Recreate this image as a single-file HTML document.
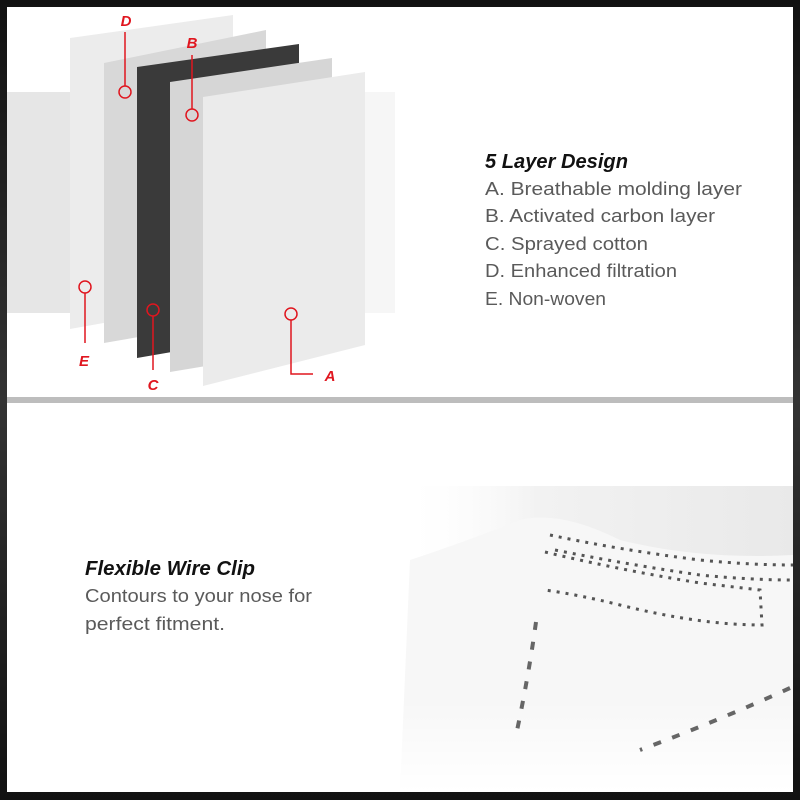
<!DOCTYPE html>
<html><head><style>html,body{margin:0;padding:0;background:#111;}svg{display:block}</style></head>
<body>
<svg width="800" height="800" viewBox="0 0 800 800" xmlns="http://www.w3.org/2000/svg" font-family="Liberation Sans, sans-serif">
<defs>
<linearGradient id="fr" x1="0" y1="0" x2="0" y2="1"><stop offset="0" stop-color="#111"/><stop offset="0.5" stop-color="#333"/><stop offset="1" stop-color="#111"/></linearGradient>
<linearGradient id="mg" x1="0" y1="0" x2="1" y2="0"><stop offset="0" stop-color="#fff" stop-opacity="0"/><stop offset="0.35" stop-color="#f2f2f2"/><stop offset="1" stop-color="#e9e9e9"/></linearGradient>
<linearGradient id="mv" x1="0" y1="0" x2="0" y2="1"><stop offset="0" stop-color="#fff" stop-opacity="0"/><stop offset="0.7" stop-color="#fff" stop-opacity="0"/><stop offset="1" stop-color="#fff"/></linearGradient>
</defs>
<rect width="800" height="800" fill="url(#fr)"/>
<rect x="7" y="7" width="786" height="390" fill="#fff"/>
<rect x="7" y="397" width="786" height="6" fill="#bdbdbd"/>
<rect x="7" y="403" width="786" height="389" fill="#fff"/>
<!-- top layers -->
<rect x="7" y="92" width="66" height="221" fill="#e6e6e6"/>
<rect x="365" y="92" width="30" height="221" fill="#f6f6f6"/>
<polygon points="70,38 233,15 233,300 70,329" fill="#ececec"/>
<polygon points="104,63 266,30 266,315 104,343" fill="#d8d8d8"/>
<polygon points="137,67 299,44 299,330 137,358" fill="#3a3a3a"/>
<polygon points="170,82 332,58 332,345 170,372" fill="#d6d6d6"/>
<polygon points="203,97 365,72 365,345 203,386" fill="#ebebeb"/>
<g stroke="#e0161f" stroke-width="1.5" fill="none">
<line x1="125" y1="32" x2="125" y2="86"/><circle cx="125" cy="92" r="6"/>
<line x1="192" y1="55" x2="192" y2="109"/><circle cx="192" cy="115" r="6"/>
<line x1="85" y1="293" x2="85" y2="343"/><circle cx="85" cy="287" r="6"/>
<line x1="153" y1="316" x2="153" y2="370"/><circle cx="153" cy="310" r="6"/>
<polyline points="291,320 291,374 313,374"/><circle cx="291" cy="314" r="6"/>
</g>
<g fill="#e0161f" font-weight="bold" font-style="italic" font-size="15" text-anchor="middle">
<text x="126" y="26">D</text><text x="192" y="48">B</text><text x="84" y="366">E</text><text x="153" y="390">C</text><text x="330" y="381">A</text>
</g>
<text x="485" y="168" font-size="20" font-weight="bold" font-style="italic" fill="#111" textLength="143" lengthAdjust="spacingAndGlyphs">5 Layer Design</text>
<g font-size="18" fill="#5a5a5a">
<text x="485" y="195" textLength="257" lengthAdjust="spacingAndGlyphs">A. Breathable molding layer</text>
<text x="485" y="222" textLength="230" lengthAdjust="spacingAndGlyphs">B. Activated carbon layer</text>
<text x="485" y="250" textLength="163" lengthAdjust="spacingAndGlyphs">C. Sprayed cotton</text>
<text x="485" y="277" textLength="192" lengthAdjust="spacingAndGlyphs">D. Enhanced filtration</text>
<text x="485" y="305" textLength="121" lengthAdjust="spacingAndGlyphs">E. Non-woven</text>
</g>
<!-- bottom mask -->
<rect x="400" y="486" width="393" height="306" fill="url(#mg)"/>
<path d="M410,560 Q470,540 520,520 Q560,510 620,540 Q700,560 793,555 L793,792 L400,792 Z" fill="#f7f7f7"/>
<rect x="400" y="486" width="393" height="306" fill="url(#mv)"/>
<g fill="none" stroke="#555" stroke-width="3" stroke-dasharray="3 6">
<path d="M550,535 Q620,550 700,560 Q750,565 793,565"/>
<path d="M555,550 Q630,565 700,575 Q750,580 793,580"/>
<path d="M545,552 Q620,570 700,583 L760,590 L762,625 Q700,625 620,605 Q580,595 545,590"/>
</g>
<g fill="none" stroke="#666" stroke-width="4" stroke-dasharray="8 12">
<path d="M536,622 Q528,680 515,740"/>
<path d="M790,688 Q720,720 640,750"/>
</g>
<text x="85" y="575" font-size="20" font-weight="bold" font-style="italic" fill="#111" textLength="170" lengthAdjust="spacingAndGlyphs">Flexible Wire Clip</text>
<text x="85" y="602" font-size="18" fill="#5a5a5a" textLength="227" lengthAdjust="spacingAndGlyphs">Contours to your nose for</text>
<text x="85" y="630" font-size="18" fill="#5a5a5a" textLength="140" lengthAdjust="spacingAndGlyphs">perfect fitment.</text>
</svg>
</body></html>
